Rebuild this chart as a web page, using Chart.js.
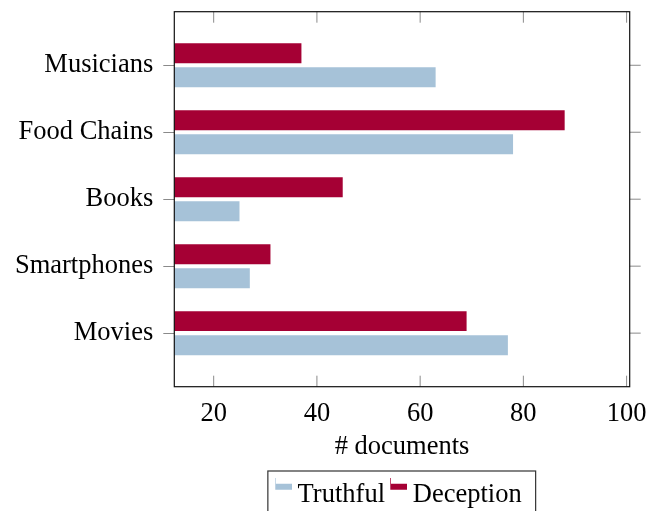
<!DOCTYPE html>
<html>
<head>
<meta charset="utf-8">
<script src="https://cdn.jsdelivr.net/npm/chart.js@4/dist/chart.umd.min.js"></script>
<style>
  html, body { margin: 0; padding: 0; background: #fff; overflow: hidden; }
  #wrap { width: 659px; height: 518px; }
</style>
</head>
<body>
<div id="wrap"><canvas id="chart" width="659" height="518"></canvas></div>
<script>
/* data */
const categories = ['Musicians', 'Food Chains', 'Books', 'Smartphones', 'Movies'];
const truthful   = [63, 78, 25, 27, 77];
const deception  = [37, 88, 45, 31, 69];
const xTicks     = [20, 40, 60, 80, 100];

const COL = {
  red:  '#a50034',
  blue: '#a6c2d8',
  tick: '#8a8a8a',
  ink:  '#000',
};
const FS = 26.5;

Chart.defaults.font.family = "'Liberation Serif', 'Times New Roman', serif";
Chart.defaults.color = COL.ink;

// legend glyph: small bar with a thin stem, sitting high like the pgfplots one
function marker(color) {
  const c = document.createElement('canvas');
  c.width = 17; c.height = 34;
  const g = c.getContext('2d');
  g.fillStyle = color;
  g.fillRect(1, 6, 16, 6);
  g.globalAlpha = 0.7;
  g.fillRect(0, 0, 1, 12);
  return c;
}
const markers = [marker(COL.red), marker(COL.blue)];

const frame = {
  id: 'frame',
  afterDatasetsDraw(chart) {
    const { ctx, chartArea: a, scales: { x, y } } = chart;
    ctx.save();
    ctx.strokeStyle = COL.tick;
    ctx.lineWidth = 1;
    ctx.beginPath();
    x.ticks.forEach(t => {
      const px = x.getPixelForValue(t.value);
      ctx.moveTo(px, a.top);    ctx.lineTo(px, a.top + 11);
      ctx.moveTo(px, a.bottom); ctx.lineTo(px, a.bottom - 11);
    });
    y.ticks.forEach(t => {
      const py = y.getPixelForValue(t.value);
      ctx.moveTo(a.right, py); ctx.lineTo(a.right + 11, py);
    });
    ctx.stroke();
    ctx.strokeStyle = '#111';
    ctx.lineWidth = 1.2;
    ctx.strokeRect(a.left, a.top, a.right - a.left, a.bottom - a.top);
    ctx.restore();
  },
  afterDraw(chart) {
    const hb = chart.legend.legendHitBoxes;
    if (!hb || !hb.length) return;
    const first = hb[0], last = hb[hb.length - 1];
    const l = first.left - 14.5, r = last.left + last.width + 14;
    const t = first.top - 10.5;
    const ctx = chart.ctx;
    ctx.save();
    ctx.strokeStyle = '#333';
    ctx.lineWidth = 1.2;
    ctx.strokeRect(l, t, r - l, chart.height + 10 - t);
    ctx.restore();
  },
};

new Chart(document.getElementById('chart'), {
  type: 'bar',
  data: {
    datasets: [
      { label: 'Deception', data: deception.map((v, i) => ({ x: v, y: i })), backgroundColor: COL.red },
      { label: 'Truthful',  data: truthful.map((v, i) => ({ x: v, y: i })),  backgroundColor: COL.blue },
    ],
  },
  options: {
    indexAxis: 'y',
    responsive: false,
    animation: false,
    categoryPercentage: 0.717,
    barPercentage: 0.833,
    layout: { padding: { top: 11.7, right: 29.3, left: 0, bottom: 0 } },
    scales: {
      x: {
        type: 'linear', min: 12.37, max: 100.6,
        afterBuildTicks: s => { s.ticks = xTicks.map(v => ({ value: v })); },
        afterFit: s => { s.height = 82.3; s.paddingLeft = 0; s.paddingRight = 0; },
        grid: { display: false },
        border: { display: false },
        ticks: { padding: 3.3, font: { size: FS }, color: COL.ink },
        title: { display: true, text: '# documents', font: { size: FS }, color: COL.ink, padding: { top: 0, bottom: 6 } },
      },
      y: {
        type: 'linear', min: -0.8, max: 4.8, reverse: true, offset: false,
        afterBuildTicks: s => { s.ticks = categories.map((_, i) => ({ value: i })); },
        afterFit: s => { s.width = 174.3; s.paddingTop = 0; s.paddingBottom = 0; },
        grid: { offset: false, drawOnChartArea: false, drawTicks: true, tickLength: 11, color: COL.tick },
        border: { display: false },
        ticks: { padding: 10, font: { size: FS }, color: COL.ink, callback: v => categories[v] },
      },
    },
    plugins: {
      tooltip: { enabled: false },
      legend: {
        position: 'bottom',
        fullSize: false,
        reverse: true,
        labels: {
          usePointStyle: true,
          pointStyleWidth: 2,
          padding: 12.5,
          color: COL.ink,
          font: { size: FS },
          generateLabels(chart) {
            const items = Chart.defaults.plugins.legend.labels.generateLabels(chart);
            items.forEach(it => { it.pointStyle = markers[it.datasetIndex]; });
            return items;
          },
        },
      },
    },
  },
  plugins: [frame],
});
</script>
</body>
</html>
